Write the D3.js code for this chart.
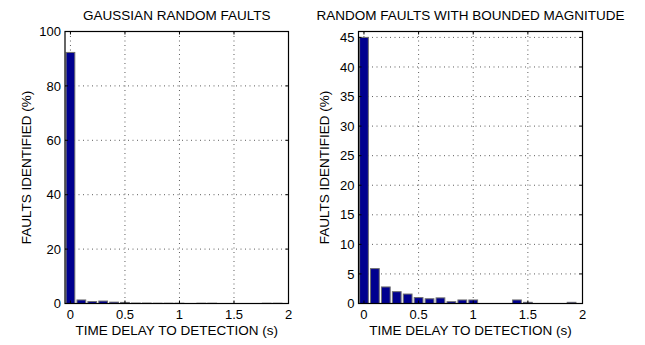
<!DOCTYPE html>
<html>
<head>
<meta charset="utf-8">
<script src="https://cdn.jsdelivr.net/npm/d3@7"></script>
<style>
  body { margin: 0; background: #fff; }
  svg { display: block; font-family: "Liberation Sans", Arial, sans-serif; }
  .axis-label, .title { font-size: 13.5px; fill: #000; }
  .tick-label { font-size: 13px; fill: #000; }
</style>
</head>
<body>
<div id="chart"></div>
<script>
// bin centres (s)
const delays = [0, 0.1, 0.2, 0.3, 0.4, 0.5, 0.6, 0.7, 0.8, 0.9,
                1.0, 1.1, 1.2, 1.3, 1.4, 1.5, 1.6, 1.7, 1.8, 1.9];

// % of faults identified per bin
const gaussianFaults = [92.3, 1.3, 0.7, 0.9, 0.5, 0.4, 0.15, 0.15, 0.1, 0.1,
                        0.1, 0, 0.1, 0.1, 0, 0, 0, 0, 0.1, 0.1];
const boundedFaults = [45, 5.9, 2.8, 2.0, 1.6, 1.0, 0.8, 0.95, 0.3, 0.6,
                       0.6, 0, 0, 0, 0.6, 0.2, 0, 0, 0, 0.2];

const xTicks = [0, 0.5, 1, 1.5, 2];
const gaussianYTicks = [0, 20, 40, 60, 80, 100];
const boundedYTicks = [0, 5, 10, 15, 20, 25, 30, 35, 40, 45];

const titles = ['GAUSSIAN RANDOM FAULTS', 'RANDOM FAULTS WITH BOUNDED MAGNITUDE'];
const xLabel = 'TIME DELAY TO DETECTION (s)';
const yLabel = 'FAULTS IDENTIFIED (%)';

const width = 645;
const height = 345;

const svg = d3.select('#chart').append('svg')
  .attr('width', width)
  .attr('height', height);

const panels = [
  { left: 65, right: 288.5, values: gaussianFaults, yMax: 100, yTicks: gaussianYTicks, title: titles[0], labelX: 31 },
  { left: 358.5, right: 582.5, values: boundedFaults, yMax: 46, yTicks: boundedYTicks, title: titles[1], labelX: 329 }
];

const plotTop = 31.5;
const plotBottom = 303.5;
const tickLen = 3;
const barWidth = 0.08;

panels.forEach(p => {
  const x = d3.scaleLinear().domain([-0.05, 2]).range([p.left, p.right]);
  const y = d3.scaleLinear().domain([0, p.yMax]).range([plotBottom, plotTop]);
  const g = svg.append('g');

  // dotted grid
  g.selectAll('.vgrid').data(xTicks.filter(t => x(t) > p.left + 1 && x(t) < p.right - 1))
    .enter().append('line')
    .attr('x1', d => x(d)).attr('x2', d => x(d))
    .attr('y1', plotTop).attr('y2', plotBottom)
    .attr('stroke', '#333').attr('stroke-width', 0.8)
    .attr('stroke-dasharray', '1,3.5');
  g.selectAll('.hgrid').data(p.yTicks.filter(t => t > 0 && y(t) > plotTop + 1))
    .enter().append('line')
    .attr('x1', p.left).attr('x2', p.right)
    .attr('y1', d => y(d)).attr('y2', d => y(d))
    .attr('stroke', '#333').attr('stroke-width', 0.8)
    .attr('stroke-dasharray', '1,3.5');

  // bars
  const bars = delays.map((d, i) => ({ d, v: p.values[i] })).filter(b => b.v > 0);
  g.selectAll('rect.bar').data(bars)
    .enter().append('rect')
    .attr('class', 'bar')
    .attr('x', b => x(b.d - barWidth / 2))
    .attr('width', b => x(b.d + barWidth / 2) - x(b.d - barWidth / 2))
    .attr('y', b => y(b.v))
    .attr('height', b => plotBottom - y(b.v))
    .attr('fill', '#00008f')
    .attr('stroke', '#6e6e6e')
    .attr('stroke-width', 1);

  // axes box
  g.append('rect')
    .attr('x', p.left).attr('y', plotTop)
    .attr('width', p.right - p.left).attr('height', plotBottom - plotTop)
    .attr('fill', 'none').attr('stroke', '#000').attr('stroke-width', 1.2);

  // inward ticks on all four sides
  xTicks.forEach(t => {
    g.append('line').attr('x1', x(t)).attr('x2', x(t)).attr('y1', plotBottom).attr('y2', plotBottom - tickLen).attr('stroke', '#000');
    g.append('line').attr('x1', x(t)).attr('x2', x(t)).attr('y1', plotTop).attr('y2', plotTop + tickLen).attr('stroke', '#000');
  });
  p.yTicks.forEach(t => {
    g.append('line').attr('x1', p.left).attr('x2', p.left + tickLen).attr('y1', y(t)).attr('y2', y(t)).attr('stroke', '#000');
    g.append('line').attr('x1', p.right).attr('x2', p.right - tickLen).attr('y1', y(t)).attr('y2', y(t)).attr('stroke', '#000');
  });

  // tick labels
  g.selectAll('.xt').data(xTicks).enter().append('text')
    .attr('class', 'tick-label')
    .attr('x', d => x(d)).attr('y', 319)
    .attr('text-anchor', 'middle')
    .text(d => d3.format('~g')(d));
  g.selectAll('.yt').data(p.yTicks).enter().append('text')
    .attr('class', 'tick-label')
    .attr('x', p.left - 4).attr('y', d => y(d) + 4.6)
    .attr('text-anchor', 'end')
    .text(d => d);

  // labels and title
  g.append('text').attr('class', 'axis-label')
    .attr('x', (p.left + p.right) / 2).attr('y', 334.5)
    .attr('text-anchor', 'middle')
    .text(xLabel);
  g.append('text').attr('class', 'axis-label')
    .attr('transform', `translate(${p.labelX},${(plotTop + plotBottom) / 2}) rotate(-90)`)
    .attr('text-anchor', 'middle')
    .text(yLabel);
  g.append('text').attr('class', 'title')
    .attr('x', (p.left + p.right) / 2).attr('y', 20)
    .attr('text-anchor', 'middle')
    .text(p.title);
});
</script>
</body>
</html>
